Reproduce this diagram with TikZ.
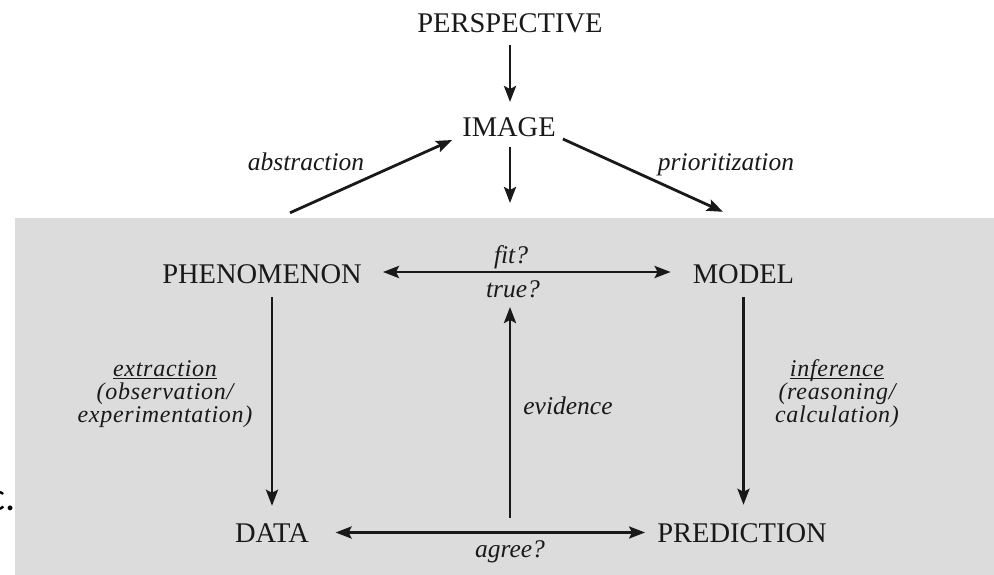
\documentclass[tikz,border=0pt]{standalone}
\usepackage{fontspec}
\setmainfont{Liberation Serif}
\newfontfamily\cfont{Carlito}
\usetikzlibrary{arrows.meta}
\definecolor{boxgray}{RGB}{220,220,220}
\definecolor{ink}{RGB}{25,25,25}
\begin{document}
\begin{tikzpicture}[x=1pt,y=-1pt,
  caps/.style={font=\fontsize{28.5}{30}\selectfont, inner sep=0pt, text height=19pt, text depth=0pt, anchor=base, text=ink},
  lbl/.style={font=\fontsize{25.5}{23}\selectfont\itshape, inner sep=0pt, anchor=base, text=ink},
  blk/.style={font=\fontsize{24}{23}\selectfont\itshape\addfontfeature{LetterSpace=3}, inner sep=0pt, anchor=center, align=center, text=ink},
  arr/.style={draw=ink, line width=2.8pt, -{Stealth[length=16pt,width=12pt,inset=3pt]}},
  darr/.style={draw=ink, line width=2.8pt, {Stealth[length=16pt,width=12pt,inset=3pt]}-{Stealth[length=16pt,width=12pt,inset=3pt]}}]
\useasboundingbox (0,0) rectangle (994,575);
\fill[boxgray] (15,218) rectangle (994,575);

\node[caps] (persp) at (510,32.5) {PERSPECTIVE};
\node[caps] (image) at (509,137) {IMAGE};
\node[caps] (phen) at (262,283) {PHENOMENON};
\node[caps] (model) at (743.5,283) {MODEL};
\node[caps] (data) at (272,542) {DATA};
\node[caps] (pred) at (742,542) {PREDICTION};

\node[lbl] (abstr) at (306,171) {abstraction};
\node[lbl] (prior) at (726,171) {prioritization};
\node[lbl] (fit) at (511,263) {fit?};
\node[lbl] (true) at (513,297) {true?};
\node[lbl] (evid) at (568,414) {evidence};
\node[lbl] (agree) at (510,557) {agree?};
\node[blk] (extr) at (165,402) {\underline{\smash{extraction}}\\(observation/\\experimentation)};
\node[blk] (infer) at (837,402) {\underline{\smash{inference}}\\(reasoning/\\calculation)};
\node[font=\cfont\fontsize{40}{40}\selectfont, inner sep=0pt, anchor=base east, text=black] (cfrag) at (16,510) {c.};

\coordinate (imgdown) at (510,203);
\coordinate (evbase) at (510,518);

\draw[arr, shorten <=12.5pt, shorten >=35pt] (persp.base) -- (persp.base |- image.base);
\draw[arr, shorten <=10pt] (imgdown |- image.base) -- (imgdown);
\draw[arr] ([xshift=28pt,yshift=51pt]phen.north) -- ([xshift=-10pt,yshift=-12.5pt]image.west);
\draw[arr] ([xshift=7pt,yshift=-11.5pt]image.east) -- ([xshift=-20.5pt,yshift=52pt]model.north);
\draw[darr, shorten <=21pt, shorten >=22pt] ([yshift=1.5pt]phen.east) -- ([yshift=1.5pt]model.west);
\draw[arr, shorten <=14pt, shorten >=17pt] (data.north |- phen.south) -- (data.north);
\draw[arr, shorten <=14pt, shorten >=18pt] (model.south) -- (model.south |- pred.north);
\draw[arr, shorten >=10pt] (evbase) -- (evbase |- true.base);
\draw[darr, shorten <=26.5pt, shorten >=12pt] (data.east) -- (pred.west);
\end{tikzpicture}
\end{document}
